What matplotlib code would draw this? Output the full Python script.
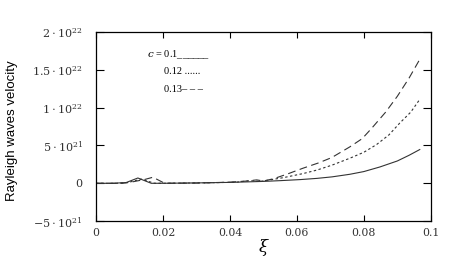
import matplotlib
matplotlib.use('Agg')
from matplotlib import pyplot as plt

## Data (values in units of 1e21) ##
xi_01 = [0, 0.005, 0.009, 0.0125, 0.0165, 0.02, 0.03, 0.04, 0.05, 0.055, 0.061,
         0.066, 0.0705, 0.0758, 0.080, 0.0848, 0.090, 0.0935, 0.0967]
v_01 = [0, 0, 0.1, 0.7, 0.0, 0, 0.05, 0.12, 0.25, 0.35, 0.49,
        0.65, 0.85, 1.19, 1.55, 2.16, 2.95, 3.7, 4.46]

xi_012 = [0, 0.006, 0.0095, 0.0135, 0.0175, 0.025, 0.035, 0.042, 0.046, 0.049,
          0.052, 0.056, 0.0618, 0.066, 0.0705, 0.0758, 0.080, 0.0838, 0.0875,
          0.0907, 0.094, 0.0967]
v_012 = [0, 0, 0.1, 0.55, 0.0, 0.02, 0.08, 0.15, 0.35, 0.25,
         0.45, 0.75, 1.28, 1.75, 2.4, 3.31, 4.1, 5.12, 6.4,
         7.95, 9.4, 11.09]

xi_013 = [0, 0.008, 0.011, 0.0145, 0.017, 0.0205, 0.03, 0.04, 0.045, 0.048,
          0.05, 0.053, 0.057, 0.0618, 0.0665, 0.0704, 0.0758, 0.0795, 0.0823,
          0.0865, 0.090, 0.0935, 0.0967]
v_013 = [0, 0, 0.2, 0.5, 0.8, 0.0, 0.03, 0.15, 0.3, 0.45,
         0.3, 0.6, 1.2, 1.99, 2.7, 3.40, 4.81, 5.9, 7.25,
         9.4, 11.5, 13.9, 16.38]

x_ticks = [0, 0.02, 0.04, 0.06, 0.08, 0.1]
x_labels = ['0', '0.02', '0.04', '0.06', '0.08', '0.1']
y_ticks = [-5, 0, 5, 10, 15, 20]
y_labels = [r'$-5\cdot10^{21}$', '0', r'$5\cdot10^{21}$', r'$1\cdot10^{22}$',
            r'$1.5\cdot10^{22}$', r'$2\cdot10^{22}$']

## Style ##
plt.rcParams['mathtext.fontset'] = 'dejavuserif'

## Plotting ##
fig = plt.figure(figsize=(4.53, 2.62), dpi=100)
ax = fig.add_axes([0.212, 0.156, 0.739, 0.722])

lc = '#333333'
ax.plot(xi_01, v_01, color=lc, lw=0.8)
ax.plot(xi_012, v_012, color=lc, lw=0.8, dashes=(2.2, 2.2))
ax.plot(xi_013, v_013, color=lc, lw=0.8, dashes=(7, 4))

ax.set_xlim(0, 0.1)
ax.set_ylim(-5, 20)
ax.set_xticks(x_ticks)
ax.set_xticklabels(x_labels, family='DejaVu Serif', fontsize=7.8, color='#333333')
ax.set_yticks(y_ticks)
ax.set_yticklabels(y_labels, family='DejaVu Serif', fontsize=8, color='#333333')
ax.tick_params(axis='x', direction='in', length=4, top=True, width=0.8, pad=5)
ax.tick_params(axis='y', direction='in', length=6, right=True, width=0.8, pad=9.5)
for s in ax.spines.values():
    s.set_linewidth(0.9)

ax.set_xlabel(r'$\xi$', fontsize=12, labelpad=-1)
ax.set_ylabel('Rayleigh waves velocity', family='Liberation Sans', fontsize=9.5)
ax.yaxis.set_label_coords(-0.234, 0.48)

# legend written as text
tf = dict(transform=fig.transFigure, fontsize=7.5, family='Liberation Serif', va='center')
fig.text(147 / 453, 1 - 55 / 262, r'$c$ = 0.1______', **tf)
fig.text(164 / 453, 1 - 72 / 262, '0.12 ......', **tf)
fig.text(164 / 453, 1 - 89 / 262, '0.13\u2013 \u2013 \u2013', **tf)

fig.savefig('out.png', dpi=100)
